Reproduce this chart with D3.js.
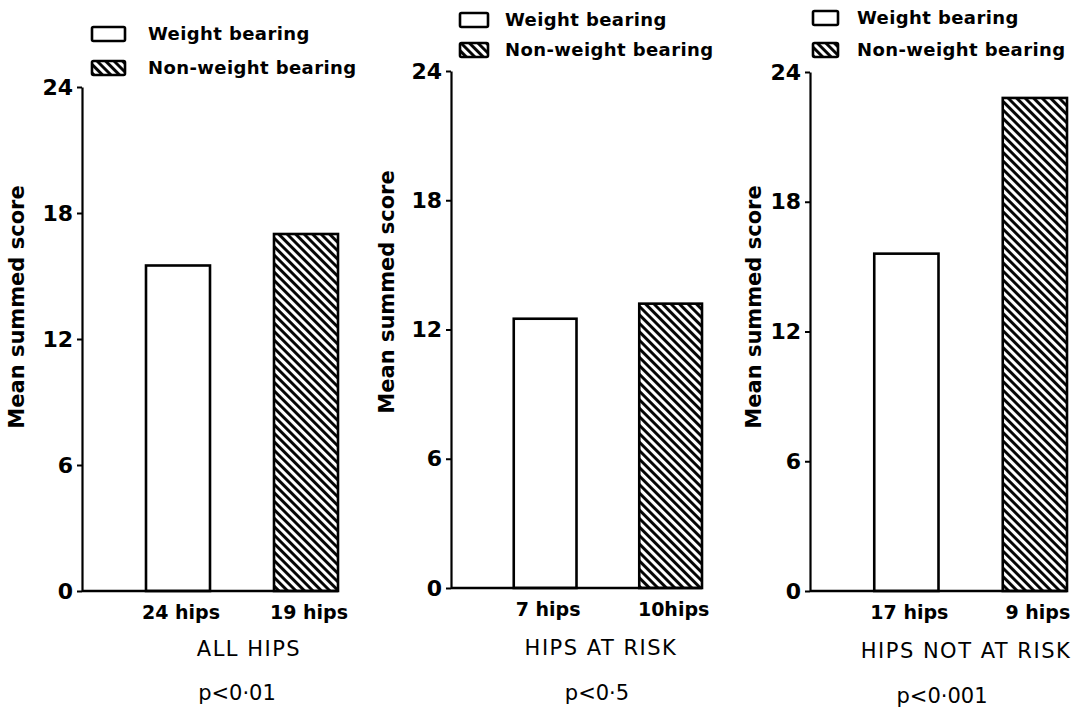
<!DOCTYPE html>
<html>
<head>
<meta charset="utf-8">
<script src="https://cdn.jsdelivr.net/npm/d3@7"></script>
<style>
  body { margin: 0; background: #fff; }
  svg { display: block; }
  text { font-family: "DejaVu Sans", sans-serif; fill: #000; }
</style>
</head>
<body>
<div id="chart"></div>
<script>
// values
const groups = ["ALL HIPS", "HIPS AT RISK", "HIPS NOT AT RISK"];
const weightBearing = [15.5, 12.5, 15.6];
const nonWeightBearing = [17.0, 13.2, 22.8];
const hipsWeight = ["24 hips", "7 hips", "17 hips"];
const hipsNonWeight = ["19 hips", "10hips", "9 hips"];
const pValues = ["p<0\u00b701", "p<0\u00b75", "p<0\u00b7001"];
const yTicks = [0, 6, 12, 18, 24];
const seriesNames = ["Weight bearing", "Non-weight bearing"];
const yLabel = "Mean summed score";

// where each panel sits on the page
const layout = [
    {axisX: 82,  yTop: 87, yBottom: 591, w: 256, titleX: 249, titleY: 656, pY: 700, pX: 237,
     legX: 92,  legY: [27, 61], legW: 33, legH: 14, legTextX: 148, yLabX: 24,  yLabY: 307},
    {axisX: 451, yTop: 71, yBottom: 588, w: 251, titleX: 601, titleY: 655, pY: 700, pX: 597,
     legX: 460, legY: [13, 43], legW: 28, legH: 14, legTextX: 505, yLabX: 394, yLabY: 292},
    {axisX: 810, yTop: 72, yBottom: 591, w: 257, titleX: 966, titleY: 658, pY: 703, pX: 942,
     legX: 813, legY: [11, 43], legW: 25, legH: 14, legTextX: 857, yLabX: 761, yLabY: 307}
];

const svg = d3.select("#chart")
              .append("svg")
              .attr("width", 1082)
              .attr("height", 714);

// diagonal hatching
const defs = svg.append("defs");
defs.append("pattern")
    .attr("id", "hatch")
    .attr("patternUnits", "userSpaceOnUse")
    .attr("width", 6)
    .attr("height", 6)
    .attr("patternTransform", "rotate(-45)")
    .append("line")
    .attr("x1", 1.5).attr("y1", 0)
    .attr("x2", 1.5).attr("y2", 6)
    .attr("stroke", "#000")
    .attr("stroke-width", 2.9);

groups.forEach((name, i) => {
    const L = layout[i];
    const g = svg.append("g");

    const y = d3.scaleLinear()
                .domain([0, 24])
                .range([L.yBottom, L.yTop]);

    // slot 0 is empty, bars in slots 1 and 3
    const x = d3.scaleBand()
                .domain([0, 1, 2, 3])
                .range([L.axisX, L.axisX + L.w])
                .padding(0);

    const bars = [
        {key: 1, value: weightBearing[i], fill: "#fff", label: hipsWeight[i]},
        {key: 3, value: nonWeightBearing[i], fill: "url(#hatch)", label: hipsNonWeight[i]}
    ];

    g.selectAll("rect.bar")
     .data(bars)
     .enter()
     .append("rect")
     .attr("class", "bar")
     .attr("x", d => x(d.key))
     .attr("y", d => y(d.value))
     .attr("width", x.bandwidth())
     .attr("height", d => y(0) - y(d.value))
     .attr("fill", d => d.fill)
     .attr("stroke", "#000")
     .attr("stroke-width", 2.6);

    // y axis
    const axis = g.append("g")
                  .attr("transform", `translate(${L.axisX},0)`)
                  .call(d3.axisLeft(y).tickValues(yTicks).tickSize(5).tickSizeOuter(0).tickPadding(4));
    axis.select(".domain").attr("stroke", "#000").attr("stroke-width", 2.2);
    axis.selectAll(".tick line").attr("stroke", "#000").attr("stroke-width", 2);
    axis.selectAll(".tick text")
        .style("font-family", '"DejaVu Sans", sans-serif')
        .style("font-size", "22px")
        .style("font-weight", "bold")
        .attr("fill", "#000");

    // baseline
    g.append("line")
     .attr("x1", L.axisX)
     .attr("x2", x(3) + x.bandwidth())
     .attr("y1", y(0))
     .attr("y2", y(0))
     .attr("stroke", "#000")
     .attr("stroke-width", 2.6);

    // hips counts
    g.selectAll("text.hips")
     .data(bars)
     .enter()
     .append("text")
     .attr("class", "hips")
     .attr("x", d => x(d.key) + x.bandwidth() / 2 + 3)
     .attr("y", y(0) + 28)
     .attr("text-anchor", "middle")
     .style("font-size", "19px")
     .style("font-weight", "bold")
     .text(d => d.label);

    // group title and p value
    g.append("text")
     .attr("x", L.titleX)
     .attr("y", L.titleY)
     .attr("text-anchor", "middle")
     .style("font-size", "21px")
     .style("letter-spacing", "1.5px")
     .text(name);

    g.append("text")
     .attr("x", L.pX)
     .attr("y", L.pY)
     .attr("text-anchor", "middle")
     .style("font-size", "21px")
     .text(pValues[i]);

    // y axis title
    g.append("text")
     .attr("transform", `translate(${L.yLabX},${L.yLabY}) rotate(-90)`)
     .attr("text-anchor", "middle")
     .style("font-size", "21px")
     .style("font-weight", "bold")
     .text(yLabel);

    // legend
    seriesNames.forEach((s, j) => {
        g.append("rect")
         .attr("x", L.legX)
         .attr("y", L.legY[j])
         .attr("width", L.legW)
         .attr("height", L.legH)
         .attr("rx", 1.5)
         .attr("fill", j === 0 ? "#fff" : "url(#hatch)")
         .attr("stroke", "#000")
         .attr("stroke-width", 2.6);
        g.append("text")
         .attr("x", L.legTextX)
         .attr("y", L.legY[j] + L.legH / 2)
         .attr("dy", "0.36em")
         .style("font-size", "18px")
         .style("font-weight", "bold")
         .style("letter-spacing", "0.4px")
         .text(s);
    });
});
</script>
</body>
</html>
